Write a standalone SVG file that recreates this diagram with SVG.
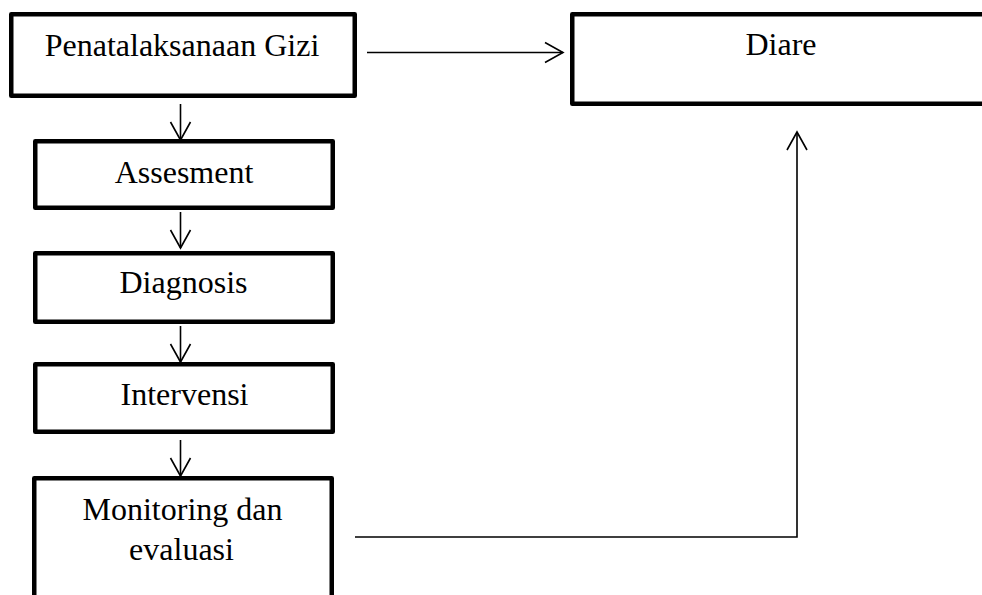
<svg xmlns="http://www.w3.org/2000/svg" width="982" height="595" viewBox="0 0 982 595">
<style>
.box{fill:#fff;stroke:#000;stroke-width:4.5;stroke-linejoin:round}
.lbl{font-family:"Liberation Serif","Times New Roman",serif;font-size:32px;fill:#000;text-anchor:middle}
.con{fill:none;stroke:#000;stroke-width:1.6}
</style>
<defs>
<marker id="ah" markerUnits="userSpaceOnUse" markerWidth="24" markerHeight="24" viewBox="-20 -12 22 24" refX="0" refY="0" orient="auto">
<path d="M-18,-10 L0,0 L-18,10" fill="none" stroke="#000" stroke-width="1.6"/>
</marker>
</defs>
<rect width="982" height="595" fill="#fff"/>
<g id="n-penatalaksanaan">
<rect class="box" x="11.25" y="14.25" width="343.5" height="81.5"/>
<text class="lbl" x="182" y="56">Penatalaksanaan Gizi</text>
</g>
<g id="n-diare">
<rect class="box" x="572.25" y="14.25" width="500" height="89.5"/>
<text class="lbl" x="781" y="55">Diare</text>
</g>
<g id="n-assesment">
<rect class="box" x="35.25" y="141.25" width="297.5" height="66.5"/>
<text class="lbl" x="184" y="183">Assesment</text>
</g>
<g id="n-diagnosis">
<rect class="box" x="35.25" y="253.25" width="297.5" height="68.5"/>
<text class="lbl" x="183.5" y="293">Diagnosis</text>
</g>
<g id="n-intervensi">
<rect class="box" x="35.25" y="364.25" width="297.5" height="67.5"/>
<text class="lbl" x="184.5" y="405">Intervensi</text>
</g>
<g id="n-monitoring">
<rect class="box" x="34.25" y="478.25" width="297.5" height="150"/>
<text class="lbl" x="182.5" y="520">Monitoring dan</text>
<text class="lbl" x="181.5" y="560">evaluasi</text>
</g>
<g id="connectors">
<path class="con" d="M367,52.5 H563" marker-end="url(#ah)"/>
<path class="con" d="M180.5,104 V140" marker-end="url(#ah)"/>
<path class="con" d="M180.5,212 V248" marker-end="url(#ah)"/>
<path class="con" d="M180.5,326 V362" marker-end="url(#ah)"/>
<path class="con" d="M180.5,440 V476" marker-end="url(#ah)"/>
<path class="con" d="M355,537 H797 V132" marker-end="url(#ah)"/>
</g>
</svg>
